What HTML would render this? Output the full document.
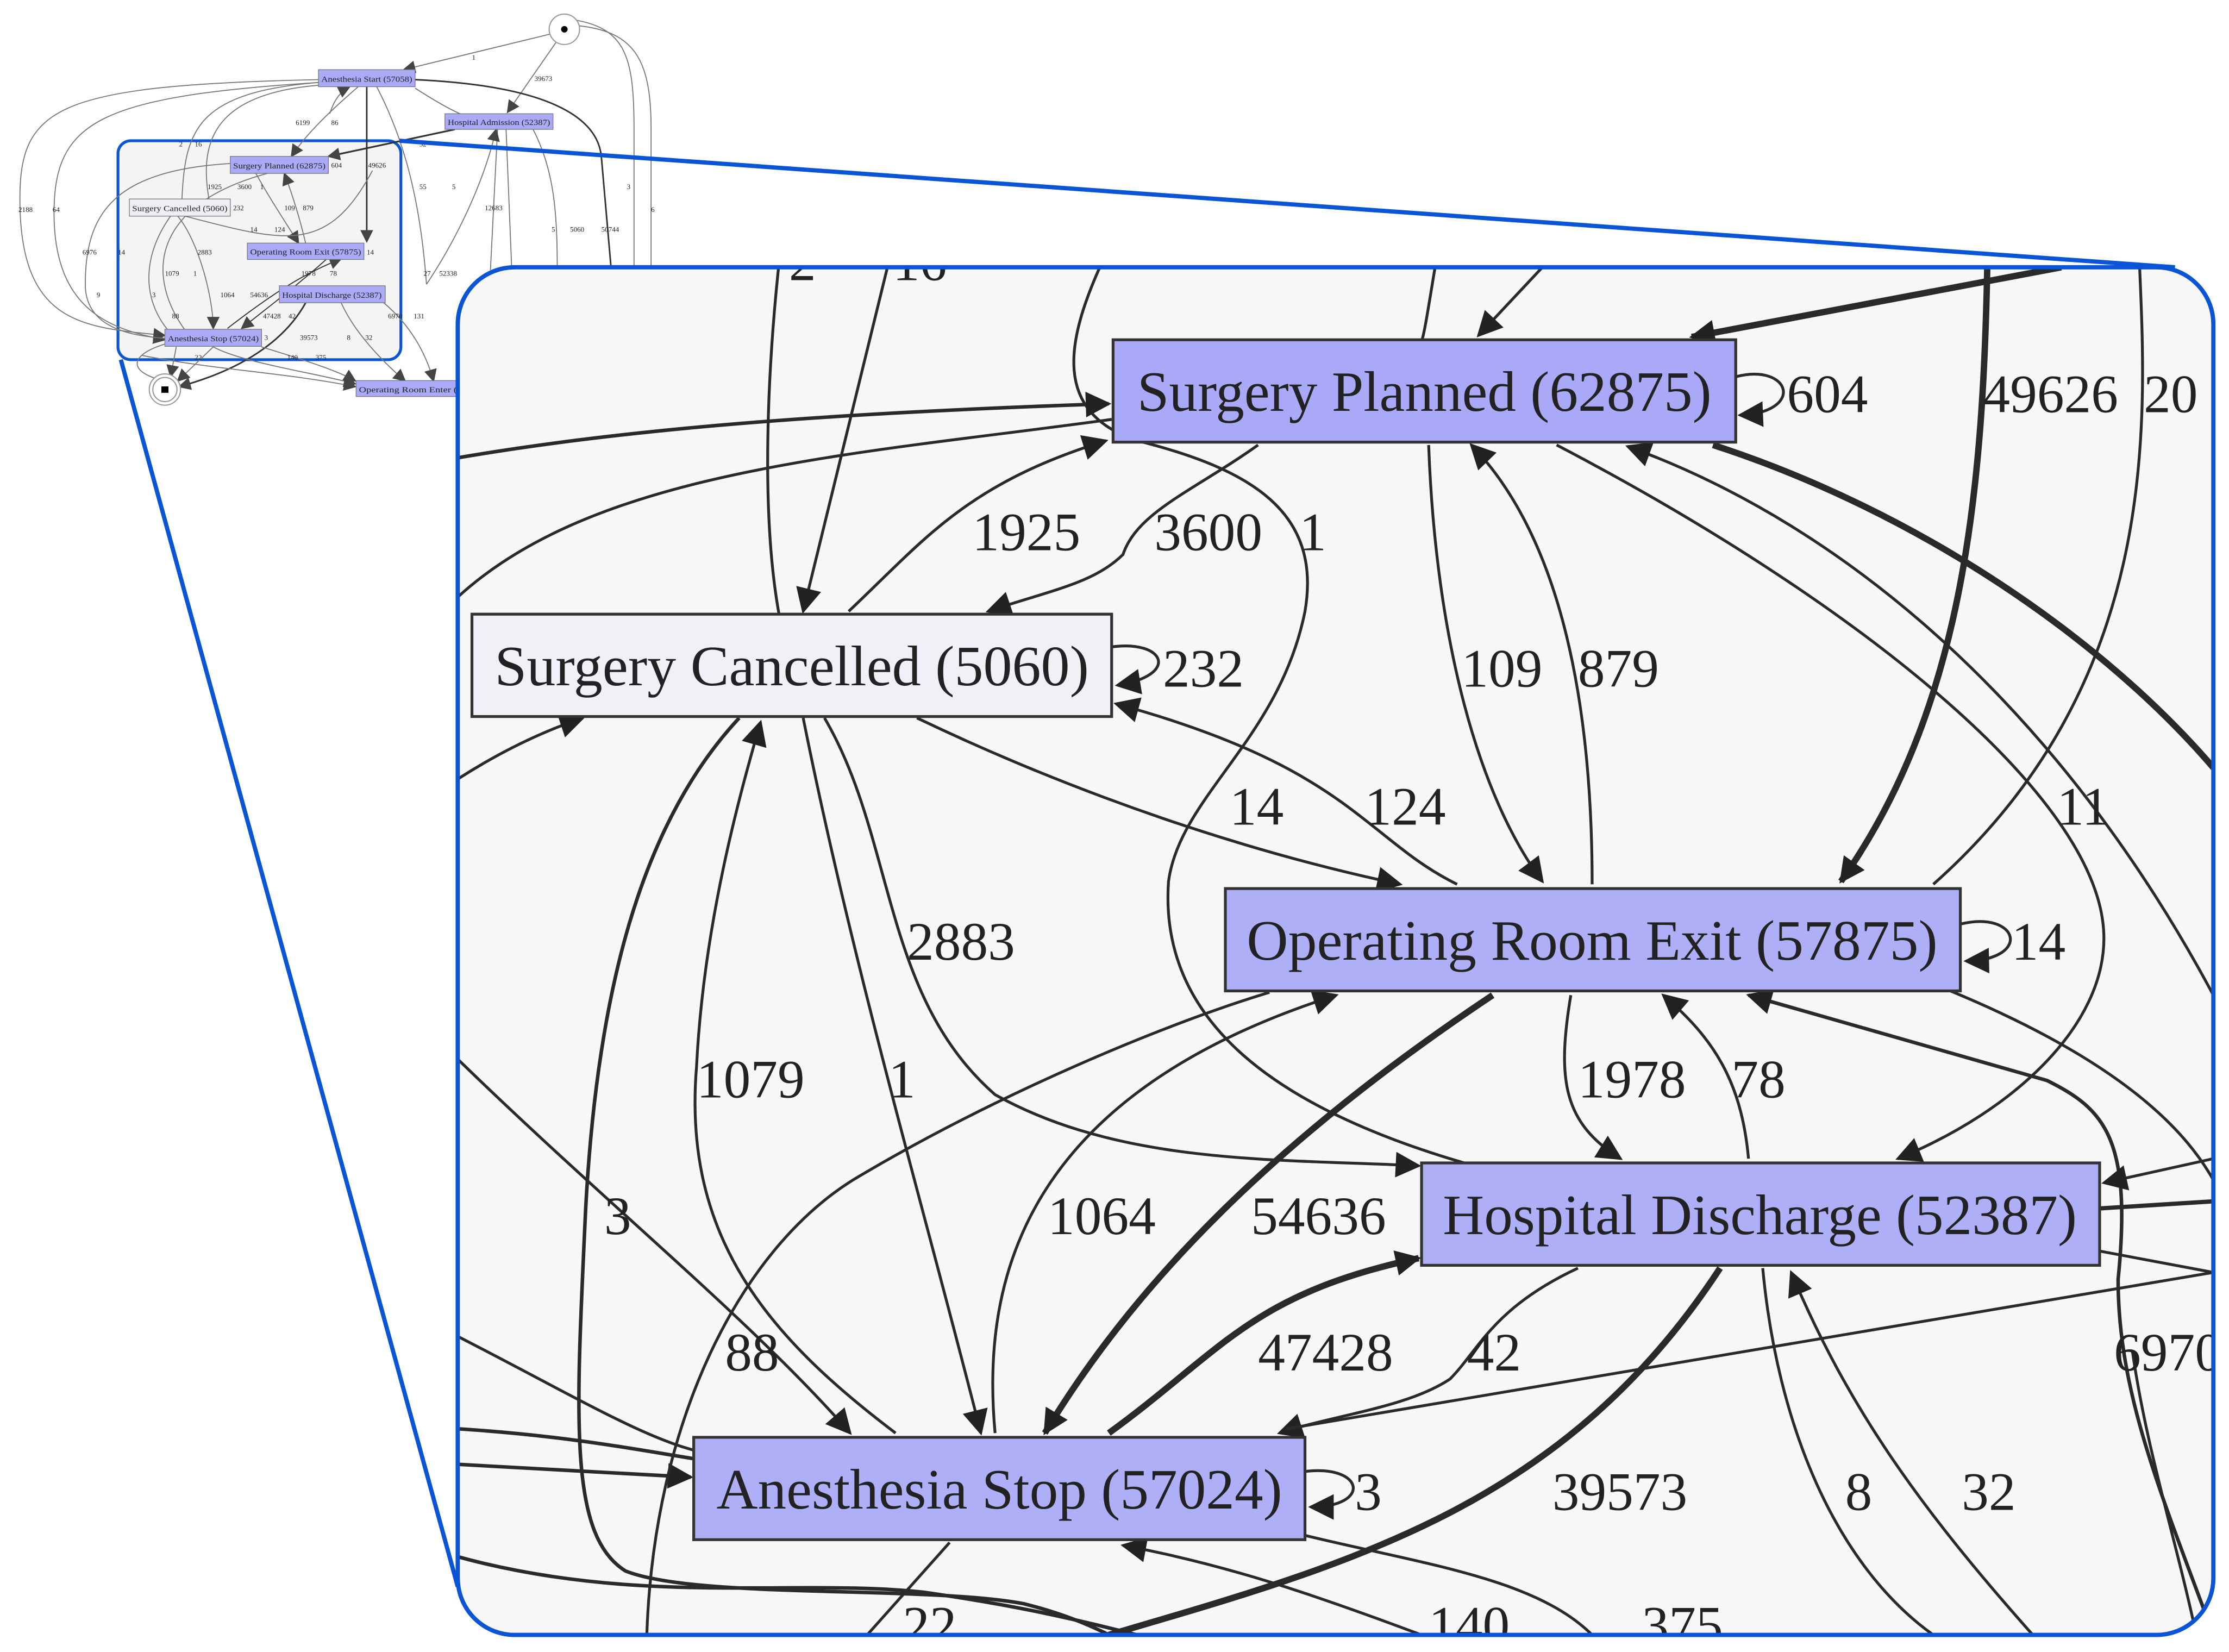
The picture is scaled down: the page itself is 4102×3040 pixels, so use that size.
<!DOCTYPE html>
<html><head><meta charset="utf-8">
<style>
html,body{margin:0;padding:0;background:#fff;}
svg{display:block;}
text{font-family:"Liberation Serif",serif;fill:#222;}
</style></head>
<body>
<svg width="4102" height="3040" viewBox="0 0 1568 1162" preserveAspectRatio="none" xmlns="http://www.w3.org/2000/svg">
<defs>
<marker id="a" viewBox="0 0 10 10" refX="9" refY="5" markerWidth="9" markerHeight="9" markerUnits="userSpaceOnUse" orient="auto"><path d="M0,0 L10,5 L0,10z" fill="#444"/></marker>
<marker id="A" viewBox="0 0 10 10" refX="9" refY="5" markerWidth="20" markerHeight="18" markerUnits="userSpaceOnUse" orient="auto"><path d="M0,0 L10,5 L0,10z" fill="#222"/></marker>
<clipPath id="cp"><rect x="322" y="188" width="1235" height="962" rx="40" ry="40"/></clipPath>
</defs>

<!-- ===== thumbnail ===== -->
<rect x="83" y="99" width="199" height="154" rx="9" fill="#f4f4f4" stroke="#0a55d6" stroke-width="2"/>
<g fill="none" stroke="#777" stroke-width="0.7">
<path d="M387,24 L284,49" marker-end="url(#a)"/>
<path d="M391,30 L357,79" marker-end="url(#a)"/>
<path d="M406,18 C445,22 458,40 458,90 L458,190"/>
<path d="M404,14 C440,20 446,40 446,90 L446,190"/>
<path d="M224,56 C40,60 14,75 14,140 C14,230 60,230 116,236" marker-end="url(#a)"/>
<path d="M224,58 C70,68 38,85 38,150 C38,220 80,232 116,239" marker-end="url(#a)"/>
<path d="M320,91 L231,110" stroke="#333" stroke-width="1.2" marker-end="url(#a)"/>
<path d="M292,56 C380,60 420,80 423,110 L430,190" stroke="#333" stroke-width="1.1"/>
<path d="M252,61 C230,80 215,95 205,110" marker-end="url(#a)"/>
<path d="M232,80 C235,70 240,64 246,61" marker-end="url(#a)"/>
<path d="M147,140 C140,100 150,66 224,60" />
<path d="M128,140 C130,90 140,65 224,58"/>
<path d="M258,61 L258,170" stroke="#333" stroke-width="1.1" marker-end="url(#a)"/>
<path d="M265,61 C280,90 295,130 300,200"/>
<path d="M292,62 C320,80 340,90 345,80" />
<path d="M350,91 L345,190"/>
<path d="M356,91 L360,190"/>
<path d="M375,91 C390,120 392,150 392,190"/>
<path d="M300,200 C320,170 340,130 349,91" marker-end="url(#a)"/>
<path d="M162,115 C80,120 60,150 60,200 C60,230 90,236 116,238"/>
<path d="M116,242 C90,250 90,262 116,268" />
<path d="M124,244 L120,265" marker-end="url(#a)"/>
<path d="M150,244 L125,268" marker-end="url(#a)"/>
<path d="M215,213 C200,240 170,260 126,272" stroke="#333" stroke-width="1.1" marker-end="url(#a)"/>
<path d="M184,244 C220,255 240,262 250,268" marker-end="url(#a)"/>
<path d="M150,244 C170,255 220,262 250,270" marker-end="url(#a)"/>
<path d="M100,250 C150,260 200,262 250,272" marker-end="url(#a)"/>
<path d="M270,213 C290,230 300,250 305,268" marker-end="url(#a)"/>
<path d="M240,213 C250,235 270,255 285,268" marker-end="url(#a)"/>
<path d="M196,120 C110,140 100,190 130,232"/>
<path d="M120,152 C100,180 100,210 118,232"/>
<path d="M180,122 C190,140 200,155 210,171" marker-end="url(#a)"/>
<path d="M215,171 C210,150 205,135 200,122" marker-end="url(#a)"/>
<path d="M125,152 C140,170 150,210 150,231" marker-end="url(#a)"/>
<path d="M160,231 C200,200 220,190 240,182" stroke="#333" marker-end="url(#a)"/>
<path d="M230,182 C210,200 190,215 170,231" stroke="#333" marker-end="url(#a)"/>
<path d="M130,152 C200,170 230,180 262,120"/>
</g>
<circle cx="397" cy="20.6" r="10.7" fill="#fff" stroke="#999" stroke-width="0.8"/>
<circle cx="397" cy="20.6" r="2.3" fill="#000"/>
<circle cx="116" cy="274" r="11" fill="#fff" stroke="#999" stroke-width="0.8"/>
<circle cx="116" cy="274" r="8.5" fill="#fff" stroke="#999" stroke-width="0.8"/>
<rect x="113.5" y="271.8" width="5" height="4.5" fill="#000"/>
<g stroke="#777" stroke-width="0.5" fill="#aaaaf8">
<rect x="224" y="49" width="68" height="12"/>
<rect x="313" y="80" width="76" height="11"/>
<rect x="162" y="110" width="69" height="12"/>
<rect x="91" y="140" width="71" height="12" fill="#eeeef4"/>
<rect x="174" y="171" width="82" height="11.5"/>
<rect x="196.5" y="201" width="74.5" height="12"/>
<rect x="116" y="231.6" width="68" height="12"/>
<rect x="250.5" y="267.7" width="80" height="11.2"/>
</g>
<g font-size="5.5">
<text x="226" y="57.5" textLength="64" lengthAdjust="spacingAndGlyphs">Anesthesia Start (57058)</text>
<text x="315" y="88" textLength="72" lengthAdjust="spacingAndGlyphs">Hospital Admission (52387)</text>
<text x="164" y="118.5" textLength="65" lengthAdjust="spacingAndGlyphs">Surgery Planned (62875)</text>
<text x="93" y="148.5" textLength="67" lengthAdjust="spacingAndGlyphs">Surgery Cancelled (5060)</text>
<text x="176" y="179" textLength="78" lengthAdjust="spacingAndGlyphs">Operating Room Exit (57875)</text>
<text x="198.5" y="209.5" textLength="70" lengthAdjust="spacingAndGlyphs">Hospital Discharge (52387)</text>
<text x="118" y="240" textLength="64" lengthAdjust="spacingAndGlyphs">Anesthesia Stop (57024)</text>
<text x="252.5" y="276" textLength="76" lengthAdjust="spacingAndGlyphs">Operating Room Enter (57</text>
</g>
<g font-size="5" fill="#333">
<text x="332" y="42">1</text><text x="376" y="57">39673</text>
<text x="13" y="149">2188</text><text x="37" y="149">64</text>
<text x="208" y="88">6199</text><text x="233" y="88">86</text>
<text x="126" y="103">2</text><text x="137" y="103">16</text>
<text x="233" y="118">604</text><text x="259" y="118">49626</text>
<text x="146" y="133">1925</text><text x="167" y="133">3600</text><text x="183" y="133">1</text>
<text x="164" y="148">232</text><text x="200" y="148">109</text><text x="213" y="148">879</text>
<text x="295" y="133">55</text><text x="318" y="133">5</text><text x="341" y="148">12683</text>
<text x="176" y="163">14</text><text x="193" y="163">124</text>
<text x="58" y="179">6976</text><text x="83" y="179">14</text><text x="139" y="179">2883</text>
<text x="258" y="179">14</text><text x="441" y="133">3</text><text x="458" y="149">6</text>
<text x="388" y="163">5</text><text x="401" y="163">5060</text><text x="423" y="163">50744</text>
<text x="116" y="194">1079</text><text x="136" y="194">1</text><text x="212" y="194">1978</text><text x="232" y="194">78</text>
<text x="298" y="194">27</text><text x="309" y="194">52338</text>
<text x="155" y="209">1064</text><text x="176" y="209">54636</text>
<text x="185" y="224">47428</text><text x="203" y="224">42</text><text x="273" y="224">6970</text><text x="291" y="224">131</text>
<text x="211" y="239">39573</text><text x="244" y="239">8</text><text x="257" y="239">32</text><text x="186" y="239">3</text>
<text x="137" y="253">22</text><text x="202" y="253">140</text><text x="222" y="253">375</text>
<text x="68" y="209">9</text><text x="107" y="209">3</text><text x="121" y="224">88</text>
<text x="295" y="103">52</text>
</g>

<!-- zoom connector lines -->
<line x1="281" y1="99" x2="1530" y2="188" stroke="#0a55d6" stroke-width="3"/>
<line x1="85" y1="253" x2="322" y2="1116" stroke="#0a55d6" stroke-width="3"/>

<!-- ===== big panel ===== -->
<rect x="322" y="188" width="1235" height="962" rx="40" ry="40" fill="#f7f7f7"/>
<g clip-path="url(#cp)" fill="none" stroke="#2a2a2a" stroke-width="2">
<path d="M548,185 C540,260 535,360 548,432"/>
<path d="M625,185 L565,430" marker-end="url(#A)"/>
<path d="M775,185 C750,240 740,290 800,310 C880,330 930,360 918,430 C900,520 830,560 822,620 C815,720 900,780 1030,818"/>
<path d="M1010,185 C1005,215 1002,235 1000,240"/>
<path d="M1085,188 L1040,236" marker-end="url(#A)"/>
<path d="M1450,188 L1190,237" stroke-width="4.5" marker-end="url(#A)"/>
<path d="M1398,185 C1395,350 1380,500 1295,620" stroke-width="4.5" marker-end="url(#A)"/>
<path d="M1505,185 C1510,300 1520,480 1360,622"/>
<path d="M1221,265 C1260,255 1270,290 1224,292" marker-end="url(#A)"/>
<path d="M322,322 C450,300 600,290 780,284" stroke-width="2.5" marker-end="url(#A)"/>
<path d="M322,420 C420,330 600,320 782,295"/>
<path d="M597,430 C650,380 680,340 778,310" marker-end="url(#A)"/>
<path d="M885,313 C840,345 800,360 790,390 C770,410 740,415 695,430" marker-end="url(#A)"/>
<path d="M1120,622 C1120,500 1100,380 1035,313" marker-end="url(#A)"/>
<path d="M1005,313 C1010,450 1040,560 1085,620" marker-end="url(#A)"/>
<path d="M1095,313 C1300,420 1480,560 1480,660 C1480,720 1420,780 1335,815" marker-end="url(#A)"/>
<path d="M1557,700 C1450,500 1300,370 1145,314" marker-end="url(#A)"/>
<path d="M1205,313 C1350,360 1480,450 1557,540" stroke-width="4.5"/>
<path d="M782,455 C820,450 830,475 786,482" marker-end="url(#A)"/>
<path d="M1379,650 C1420,640 1430,675 1383,676" marker-end="url(#A)"/>
<path d="M322,548 C350,530 380,515 410,505" marker-end="url(#A)"/>
<path d="M645,505 C760,560 880,600 985,622" marker-end="url(#A)"/>
<path d="M1025,622 C960,590 950,540 785,495" marker-end="url(#A)"/>
<path d="M580,505 C630,590 620,700 700,770 C790,820 900,815 998,820" marker-end="url(#A)"/>
<path d="M565,505 C600,680 650,850 690,1008" marker-end="url(#A)"/>
<path d="M630,1008 C540,940 480,870 490,750 C495,650 520,560 535,508" marker-end="url(#A)"/>
<path d="M520,505 C450,580 420,700 412,850 C405,1000 400,1080 440,1105 C490,1125 650,1115 720,1128 C760,1138 780,1150 800,1160" stroke-width="2.5"/>
<path d="M322,745 C430,850 530,930 598,1008" marker-end="url(#A)"/>
<path d="M700,1008 C690,900 720,770 940,700" marker-end="url(#A)"/>
<path d="M1050,700 C900,800 800,900 735,1008" stroke-width="4.5" marker-end="url(#A)"/>
<path d="M780,1008 C860,950 880,910 998,885" stroke-width="4.5" marker-end="url(#A)"/>
<path d="M1110,892 C1050,920 1040,950 1020,970 C990,990 940,995 900,1008" marker-end="url(#A)"/>
<path d="M1557,895 L905,1005" stroke-width="2"/>
<path d="M1105,700 C1095,760 1100,790 1140,815" marker-end="url(#A)"/>
<path d="M1230,815 C1225,760 1205,730 1170,700" marker-end="url(#A)"/>
<path d="M1557,1150 C1520,1050 1490,980 1490,900 C1500,800 1480,780 1440,760 L1230,700" stroke-width="2.5" marker-end="url(#A)"/>
<path d="M1372,697 C1500,750 1540,800 1557,830"/>
<path d="M1477,850 L1557,845" stroke-width="3"/>
<path d="M1557,815 L1480,832" marker-end="url(#A)"/>
<path d="M1477,880 L1557,895"/>
<path d="M1210,892 C1100,1060 950,1100 780,1150" stroke-width="4.5"/>
<path d="M1240,892 C1250,1000 1290,1100 1360,1150"/>
<path d="M1430,1150 C1350,1060 1300,990 1260,895" marker-end="url(#A)"/>
<path d="M1500,950 C1510,1020 1530,1080 1545,1150"/>
<path d="M322,940 C400,980 450,1010 488,1020"/>
<path d="M322,1005 C400,1010 450,1020 488,1026" stroke-width="2.5"/>
<path d="M322,1030 L486,1039" stroke-width="2.5" marker-end="url(#A)"/>
<path d="M918,1035 C960,1030 965,1060 922,1060" marker-end="url(#A)"/>
<path d="M668,1085 L610,1150"/>
<path d="M1000,1150 C920,1120 860,1100 790,1087" marker-end="url(#A)"/>
<path d="M918,1080 C1000,1100 1080,1110 1120,1150"/>
<path d="M322,1095 C450,1130 560,1110 650,1120 C720,1130 760,1140 800,1150" stroke-width="2.5"/>
<path d="M455,1150 C460,1000 520,880 600,830 C700,770 820,720 893,698"/>
</g>
<!-- big nodes -->
<g stroke="#333" stroke-width="2">
<rect x="783" y="239" width="438" height="72" fill="#a9a9f7"/>
<rect x="332" y="432" width="450" height="72" fill="#f0f0f6"/>
<rect x="862" y="625" width="517" height="72" fill="#afaff8"/>
<rect x="1000" y="818" width="477" height="72" fill="#afaff8"/>
<rect x="488" y="1011" width="430" height="72" fill="#afaff8"/>
</g>
<g font-size="40">
<text x="800" y="289" textLength="404" lengthAdjust="spacingAndGlyphs">Surgery Planned (62875)</text>
<text x="348" y="482" textLength="418" lengthAdjust="spacingAndGlyphs">Surgery Cancelled (5060)</text>
<text x="877" y="675" textLength="486" lengthAdjust="spacingAndGlyphs">Operating Room Exit (57875)</text>
<text x="1015" y="868" textLength="446" lengthAdjust="spacingAndGlyphs">Hospital Discharge (52387)</text>
<text x="504" y="1061" textLength="398" lengthAdjust="spacingAndGlyphs">Anesthesia Stop (57024)</text>
</g>
<g clip-path="url(#cp)" font-size="38">
<text x="555" y="197">2</text><text x="628" y="197">16</text>
<text x="1257" y="290">604</text><text x="1395" y="290">49626</text><text x="1508" y="290">20</text>
<text x="684" y="387">1925</text><text x="812" y="387">3600</text><text x="914" y="387">1</text>
<text x="818" y="483">232</text><text x="1028" y="483">109</text><text x="1110" y="483">879</text>
<text x="865" y="580">14</text><text x="960" y="580">124</text><text x="1447" y="580">11</text>
<text x="638" y="675">2883</text><text x="1415" y="675">14</text>
<text x="490" y="772">1079</text><text x="625" y="772">1</text><text x="1110" y="772">1978</text><text x="1218" y="772">78</text>
<text x="425" y="868">3</text><text x="737" y="868">1064</text><text x="880" y="868">54636</text>
<text x="510" y="964">88</text><text x="885" y="964">47428</text><text x="1032" y="964">42</text><text x="1487" y="964">6970</text>
<text x="953" y="1062">3</text><text x="1092" y="1062">39573</text><text x="1298" y="1062">8</text><text x="1380" y="1062">32</text>
<text x="635" y="1156">22</text><text x="1005" y="1156">140</text><text x="1155" y="1156">375</text>
</g>
<rect x="322" y="188" width="1235" height="962" rx="40" ry="40" fill="none" stroke="#0a55d6" stroke-width="3"/>
</svg>
</body></html>
